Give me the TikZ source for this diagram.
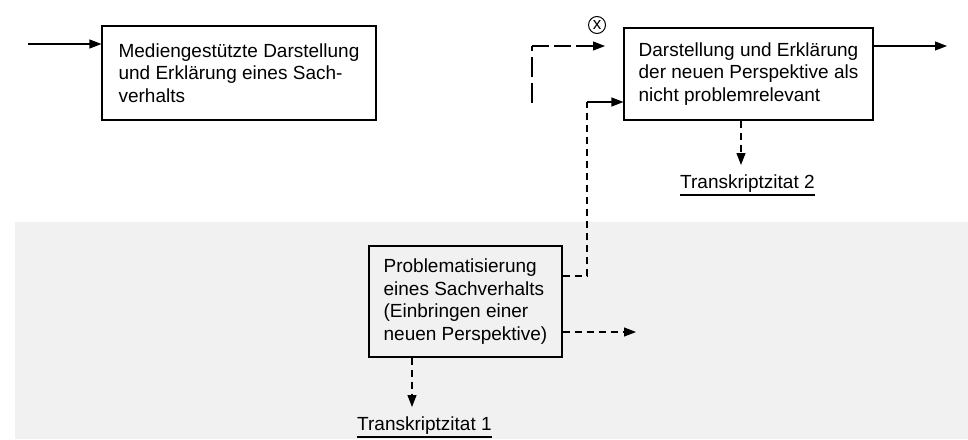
\documentclass[tikz,border=0pt]{standalone}
\usepackage{fontspec}
\setmainfont{Liberation Sans}
\usetikzlibrary{arrows.meta,calc}

\tikzset{
  box/.style={draw, line width=1.1pt, align=left, inner sep=0pt,
    font=\fontsize{19}{22.5}\selectfont},
  quote/.style={inner sep=0pt, font=\fontsize{19}{22.5}\selectfont},
  conn/.style={line width=1.1pt, -{Triangle[length=12pt,width=9pt]}},
  dashconn/.style={conn, dash pattern=on 7pt off 5pt},
  longdash/.style={line width=1.1pt, dash pattern=on 20pt off 6pt},
  shortdash/.style={line width=1.1pt, dash pattern=on 7pt off 5pt},
  uline/.style={line width=1.1pt},
}

\begin{document}
\begin{tikzpicture}[x=1pt, y=-1pt]
  % page and shaded lower band
  \path[fill=white, use as bounding box] (0,0) rectangle (968,439);
  \fill[gray!11] (15,222) rectangle (968,439);

  % boxes
  \node[box, minimum width=274pt, minimum height=94pt] (b1)
    at (239,73) {Mediengestützte Darstellung\\und Erklärung eines Sach-\\verhalts};
  \node[box, minimum width=249pt, minimum height=92pt] (b2)
    at (748.5,74) {Darstellung und Erklärung\\der neuen Perspektive als\\nicht problemrelevant};
  \node[box, minimum width=193pt, minimum height=111pt] (b3)
    at (465.5,301.5) {Problematisierung\\eines Sachverhalts\\(Einbringen einer\\neuen Perspektive)};

  % quotations
  \node[quote, anchor=base west] (t1) at (357,430) {Transkriptzitat 1};
  \node[quote, anchor=base west] (t2) at (680,188) {Transkriptzitat 2};
  \draw[uline] ([yshift=-7pt]t1.base west) -- ([yshift=-7pt]t1.base east);
  \draw[uline] ([yshift=-7pt]t2.base west) -- ([yshift=-7pt]t2.base east);

  % marker
  \node[draw, circle, line width=1pt, minimum size=17pt, inner sep=0pt,
    font=\fontsize{17}{17}\selectfont] (mx) at (597,25) {x};

  % connector points
  \coordinate (in) at (28,44);
  \coordinate (out) at (947,46);
  \coordinate (d0) at (532,103);
  \coordinate (d1) at (605,46);
  \coordinate (j) at (587,102);
  \coordinate (jb) at (587,276);
  \coordinate (e3) at (636,332);
  \coordinate (s3) at (412,407);
  \coordinate (s2) at (741,165);

  % connectors
  \draw[conn] (in) -- (in -| b1.west);
  \draw[conn] (out -| b2.east) -- (out);
  \draw[longdash] (d0) -- (d0 |- d1);
  \draw[dashconn, dash pattern=on 17pt off 5pt] (d0 |- d1) -- (d1);
  \draw[shortdash] (jb -| b3.east) -- (jb) -- (j);
  \draw[conn] (j) -- (j -| b2.west);
  \draw[dashconn] (e3 -| b3.east) -- (e3);
  \draw[dashconn] (s3 |- b3.south) -- (s3);
  \draw[dashconn] (s2 |- b2.south) -- (s2);
\end{tikzpicture}
\end{document}
